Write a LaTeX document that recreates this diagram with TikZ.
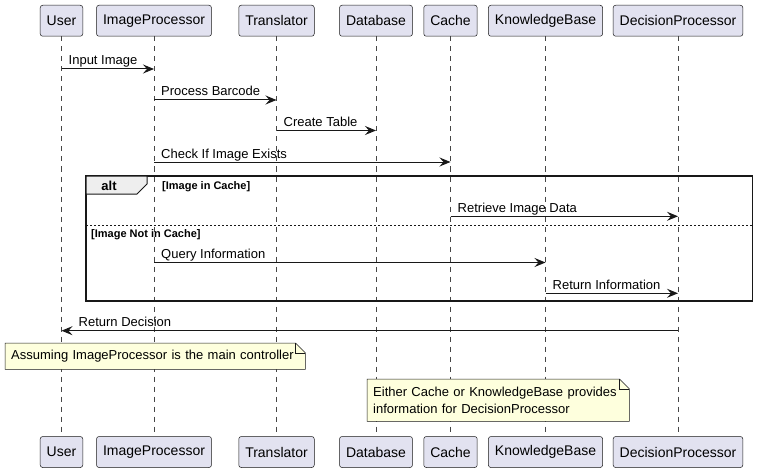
\documentclass[tikz,border=0pt]{standalone}
\usepackage{fontspec}
\setmainfont{Liberation Sans}
\usetikzlibrary{arrows.meta, backgrounds}
\definecolor{partfill}{HTML}{E2E2F0}
\definecolor{ink}{HTML}{181818}
\definecolor{notefill}{HTML}{FEFFDD}
\definecolor{tabfill}{HTML}{EEEEEE}
\begin{document}
\begin{tikzpicture}[x=1pt, y=-1pt]
\tikzset{acteur/.style={draw=ink, fill=partfill, line width=0.5pt, rounded corners=2.5pt, minimum height=31pt, inner xsep=6.5pt, font=\fontsize{14}{16}\selectfont},
  vie/.style={draw=ink!80, line width=0.5pt, dash pattern=on 5pt off 5pt},
  msg/.style={draw=ink, line width=1pt, -{Stealth[length=11pt, width=9pt, inset=4pt]}},
  etiq/.style={anchor=base west, inner sep=0pt, font=\fontsize{13}{15}\selectfont},
  garde/.style={anchor=base west, inner sep=0pt, font=\fontsize{11}{13}\selectfont\bfseries},
  notetxt/.style={anchor=north west, inner xsep=6pt, inner ysep=0pt, align=left, font=\fontsize{13}{17}\selectfont},
  notebord/.style={draw=ink, fill=notefill, line width=0.5pt}}
\useasboundingbox (0,0) rectangle (759,473);
% participants, haut et bas
\node[acteur] (uT) at (61.5, 20.75) {User};
\node[acteur] (ipT) at (154, 20.75) {ImageProcessor};
\node[acteur] (trT) at (276.5, 20.75) {Translator};
\node[acteur] (dbT) at (376, 20.75) {Database};
\node[acteur] (caT) at (450.5, 20.75) {Cache};
\node[acteur] (kbT) at (545.5, 20.75) {KnowledgeBase};
\node[acteur] (dpT) at (678, 20.75) {DecisionProcessor};
\node[acteur] (uB) at (61.5, 452) {User};
\node[acteur] (ipB) at (154, 452) {ImageProcessor};
\node[acteur] (trB) at (276.5, 452) {Translator};
\node[acteur] (dbB) at (376, 452) {Database};
\node[acteur] (caB) at (450.5, 452) {Cache};
\node[acteur] (kbB) at (545.5, 452) {KnowledgeBase};
\node[acteur] (dpB) at (678, 452) {DecisionProcessor};
\begin{pgfonlayer}{background}
\draw[vie] (uT) -- (uB);
\draw[vie] (ipT) -- (ipB);
\draw[vie] (trT) -- (trB);
\draw[vie] (dbT) -- (dbB);
\draw[vie] (caT) -- (caB);
\draw[vie] (kbT) -- (kbB);
\draw[vie] (dpT) -- (dpB);
\end{pgfonlayer}
% lignes des messages
\coordinate (r1) at (0, 69);
\coordinate (r2) at (0, 100);
\coordinate (r3) at (0, 130.5);
\coordinate (r4) at (0, 162);
\coordinate (r5) at (0, 216.3);
\coordinate (r6) at (0, 262.5);
\coordinate (r7) at (0, 293.3);
\coordinate (r8) at (0, 330.7);
\draw[msg] (uT |- r1) -- (ipT |- r1);
\node[etiq] (l1) at ([xshift=7pt, yshift=4pt]uT |- r1) {Input Image};
\draw[msg] (ipT |- r2) -- (trT |- r2);
\node[etiq] (l2) at ([xshift=7pt, yshift=4pt]ipT |- r2) {Process Barcode};
\draw[msg] (trT |- r3) -- (dbT |- r3);
\node[etiq] (l3) at ([xshift=7pt, yshift=4pt]trT |- r3) {Create Table};
\draw[msg] (ipT |- r4) -- (caT |- r4);
\node[etiq] (l4) at ([xshift=7pt, yshift=4pt]ipT |- r4) {Check If Image Exists};
% bloc alt
\draw[draw=ink, line width=1.5pt] (86,176) rectangle (752.5,301);
\draw[draw=ink, fill=tabfill, line width=1pt] (86,176) -- (147,176) -- (147,184) -- (137,194) -- (86,194) -- cycle;
\node[font=\fontsize{13}{15}\selectfont\bfseries, inner sep=0pt] (alt) at (109,186) {alt};
\node[garde] (g1) at (162,189.5) {[Image in Cache]};
\draw[draw=ink, line width=0.8pt, dash pattern=on 2pt off 2pt] (86,225) -- (752.5,225);
\node[garde] (g2) at (91,237) {[Image Not in Cache]};
\draw[msg] (caT |- r5) -- (dpT |- r5);
\node[etiq] (l5) at ([xshift=7pt, yshift=4pt]caT |- r5) {Retrieve Image Data};
\draw[msg] (ipT |- r6) -- (kbT |- r6);
\node[etiq] (l6) at ([xshift=7pt, yshift=4pt]ipT |- r6) {Query Information};
\draw[msg] (kbT |- r7) -- (dpT |- r7);
\node[etiq] (l7) at ([xshift=7pt, yshift=4pt]kbT |- r7) {Return Information};
\draw[msg] (dpT |- r8) -- (uT |- r8);
\node[etiq] (l8) at ([xshift=17pt, yshift=4pt]uT |- r8) {Return Decision};
% notes
\node[notetxt, text width=288pt, minimum height=26pt] (n1) at (5,343) {Assuming ImageProcessor is the main controller};
\node[notetxt, text width=250pt, minimum height=42pt] (n2) at (367,379) {Either Cache or KnowledgeBase provides\\information for DecisionProcessor};
\begin{pgfonlayer}{background}
\draw[notebord] (n1.north west) -- ([xshift=-10pt]n1.north east) -- ([yshift=-10pt]n1.north east) -- (n1.south east) -- (n1.south west) -- cycle;
\draw[draw=ink, line width=0.5pt] ([xshift=-10pt]n1.north east) -- ([xshift=-10pt, yshift=-10pt]n1.north east) -- ([yshift=-10pt]n1.north east);
\draw[notebord] (n2.north west) -- ([xshift=-10pt]n2.north east) -- ([yshift=-10pt]n2.north east) -- (n2.south east) -- (n2.south west) -- cycle;
\draw[draw=ink, line width=0.5pt] ([xshift=-10pt]n2.north east) -- ([xshift=-10pt, yshift=-10pt]n2.north east) -- ([yshift=-10pt]n2.north east);
\end{pgfonlayer}
\end{tikzpicture}
\end{document}
